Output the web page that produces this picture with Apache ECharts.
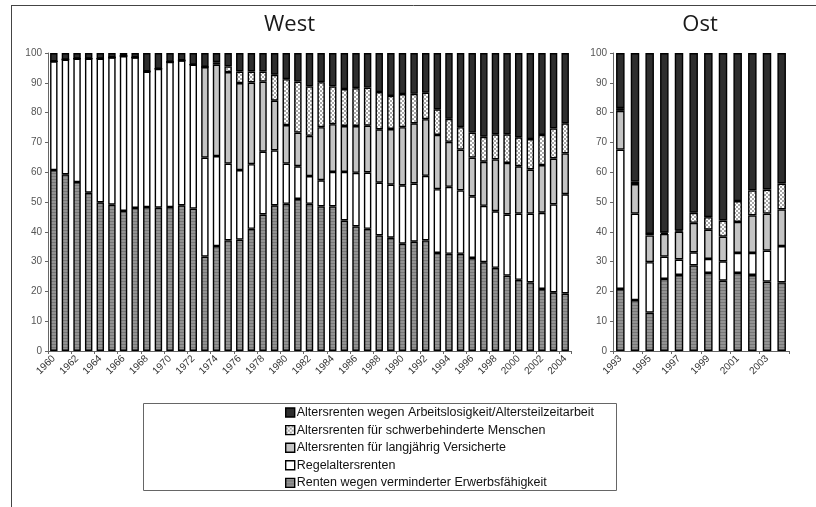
<!DOCTYPE html>
<html>
<head>
<meta charset="utf-8">
<script src="https://cdn.jsdelivr.net/npm/echarts@6/dist/echarts.min.js"></script>
<style>
  html, body { margin: 0; padding: 0; background: #fff; }
  #chart { width: 816px; height: 507px; }
</style>
</head>
<body>
<div id="chart"></div>
<script>
// Rentenzugänge nach Rentenart, Anteile in Prozent
const westYears = ['1960','1961','1962','1963','1964','1965','1966','1967','1968','1969',
  '1970','1971','1972','1973','1974','1975','1976','1977','1978','1979',
  '1980','1981','1982','1983','1984','1985','1986','1987','1988','1989',
  '1990','1991','1992','1993','1994','1995','1996','1997','1998','1999',
  '2000','2001','2002','2003','2004'];
const ostYears = ['1993','1994','1995','1996','1997','1998','1999','2000','2001','2002','2003','2004'];

const seriesNames = [
  'Renten wegen verminderter Erwerbsfähigkeit',
  'Regelaltersrenten',
  'Altersrenten für langjährig Versicherte',
  'Altersrenten für schwerbehinderte Menschen',
  'Altersrenten wegen Arbeitslosigkeit/Altersteilzeitarbeit'
];

// West
const westErwerb = [60.7,59.3,56.7,53.1,49.9,49.1,47.0,48.0,48.3,48.1,
  48.3,48.9,47.8,31.7,35.2,37.1,37.4,41.0,45.8,48.9,
  49.4,51.0,49.4,48.5,48.5,43.8,41.8,41.0,38.8,38.0,
  36.0,36.7,37.1,32.9,32.6,32.6,31.2,29.8,27.9,25.3,
  23.9,23.0,20.8,19.7,19.3];
const westRegel = [36.5,38.5,41.4,45.0,48.2,49.4,52.0,50.5,45.5,46.6,
  48.7,48.6,48.3,33.2,30.2,25.8,23.3,21.7,21.1,18.4,
  13.5,11.0,9.3,8.8,11.6,16.3,18.0,18.9,17.7,17.8,
  19.6,19.5,21.7,21.4,22.5,21.3,20.7,18.9,19.0,20.5,
  22.2,23.1,25.6,29.5,33.3];
const westLangj = [0,0,0,0,0,0,0,0,0,0,
  0,0,0,30.4,30.7,30.7,29.2,27.4,23.5,16.7,
  12.9,11.3,13.5,17.8,16.0,15.4,15.7,15.7,17.9,18.7,
  19.5,20.2,19.0,18.2,15.1,13.7,13.0,14.8,17.4,17.3,
  15.9,14.8,16.0,15.4,13.7];
const westSchwer = [0,0,0,0,0,0,0,0,0,0,
  0,0,0,0,0.8,1.9,3.9,3.7,3.4,8.7,
  15.4,17.1,16.6,15.1,12.7,12.4,12.7,12.8,12.5,11.1,
  11.1,9.9,8.9,8.6,7.7,7.5,8.4,8.4,8.4,9.6,
  9.7,10.2,10.1,10.1,10.1];
const westArbeitsl = [2.8,2.2,1.9,1.9,1.9,1.5,1.0,1.5,6.2,5.3,
  3.0,2.5,3.9,4.7,3.1,4.5,6.2,6.2,6.2,7.3,
  8.8,9.6,11.2,9.8,11.2,12.1,11.8,11.6,13.1,14.4,
  13.8,13.7,13.3,18.9,22.1,24.9,26.7,28.1,27.3,27.3,
  28.3,28.9,27.5,25.3,23.6];

// Ost
const ostErwerb = [20.8,17.1,12.9,24.2,25.5,28.7,26.2,23.6,26.2,25.5,23.3,23.0];
const ostRegel = [46.8,29.0,16.9,7.5,5.2,4.4,4.7,6.5,6.7,7.4,10.4,12.2];
const ostLangj = [13.0,9.9,9.0,7.6,9.4,9.9,9.8,8.3,10.4,12.6,12.4,12.3];
const ostSchwer = [0.9,0.8,0.5,0.4,0.3,3.4,4.2,5.4,7.0,8.4,8.1,8.7];
const ostArbeitsl = [18.5,43.2,60.7,60.3,59.6,53.6,55.1,56.2,49.7,46.1,45.8,43.8];

const yTicks = { min: 0, max: 100, interval: 10 };

// fill patterns
function makePattern(w, h, paint) {
  const c = document.createElement('canvas');
  c.width = w; c.height = h;
  paint(c.getContext('2d'));
  return { image: c, repeat: 'repeat' };
}
const hatchGrey = makePattern(2, 3, ctx => {
  ctx.fillStyle = '#939393'; ctx.fillRect(0, 0, 2, 3);
  ctx.fillStyle = '#777777'; ctx.fillRect(0, 2, 2, 1);
});
const checker = makePattern(4, 4, ctx => {
  ctx.fillStyle = '#a8a8a8'; ctx.fillRect(0, 0, 4, 4);
  ctx.fillStyle = '#ffffff'; ctx.fillRect(0, 0, 2, 2); ctx.fillRect(2, 2, 2, 2);
});

const fills = [hatchGrey, '#ffffff', '#c4c4c4', checker, '#2e2e2e'];
const westData = [westErwerb, westRegel, westLangj, westSchwer, westArbeitsl];
const ostData = [ostErwerb, ostRegel, ostLangj, ostSchwer, ostArbeitsl];

const series = [];
seriesNames.forEach((name, i) => {
  series.push({
    name, type: 'bar', stack: 'w', xAxisIndex: 0, yAxisIndex: 0,
    data: westData[i], barWidth: '64%',
    itemStyle: { color: fills[i], borderColor: '#000', borderWidth: 1.4 },
    emphasis: { disabled: true }
  });
  series.push({
    name, type: 'bar', stack: 'o', xAxisIndex: 1, yAxisIndex: 1,
    data: ostData[i], barWidth: '58%',
    itemStyle: { color: fills[i], borderColor: '#000', borderWidth: 1.4 },
    emphasis: { disabled: true }
  });
});

const axisFont = { fontFamily: 'Liberation Sans, Arial, sans-serif', fontSize: 10, color: '#333' };

function xAxis(gridIndex, data) {
  return {
    type: 'category', gridIndex, data,
    axisLine: { lineStyle: { color: '#666', width: 1 } },
    axisTick: { show: true, length: 3, lineStyle: { color: '#666' } },
    axisLabel: Object.assign({ rotate: 45, interval: 1, margin: 6 }, axisFont)
  };
}
function yAxis(gridIndex) {
  return {
    type: 'value', gridIndex, min: yTicks.min, max: yTicks.max, interval: yTicks.interval,
    axisLine: { show: true, lineStyle: { color: '#666', width: 1 } },
    axisTick: { show: true, length: 3, lineStyle: { color: '#666' } },
    splitLine: { show: false },
    axisLabel: Object.assign({ margin: 6 }, axisFont, { color: '#555', fontSize: 10 })
  };
}

const chart = echarts.init(document.getElementById('chart'), null, { renderer: 'canvas' });
chart.setOption({
  animation: false,
  backgroundColor: '#fff',
  grid: [
    { left: 48, right: 245, top: 53, bottom: 156 },
    { left: 613, right: 27, top: 53, bottom: 156 }
  ],
  xAxis: [xAxis(0, westYears), xAxis(1, ostYears)],
  yAxis: [yAxis(0), yAxis(1)],
  legend: {
    orient: 'vertical', left: 280, top: 401,
    data: seriesNames.slice().reverse(),
    itemWidth: 9, itemHeight: 9, itemGap: 4.6,
    icon: 'rect',
    textStyle: { fontFamily: 'Liberation Sans, Arial, sans-serif', fontSize: 12.5, color: '#111', padding: [0, 0, 0, -3] },
    itemStyle: { borderColor: '#000', borderWidth: 1.4 },
    selectedMode: false
  },
  series,
  graphic: [
    { type: 'line', shape: { x1: 11, y1: 5.5, x2: 816, y2: 5.5 }, style: { stroke: '#444', lineWidth: 1 } },
    { type: 'line', shape: { x1: 11.5, y1: 5, x2: 11.5, y2: 507 }, style: { stroke: '#444', lineWidth: 1 } },
    { type: 'rect', shape: { x: 143.5, y: 403.5, width: 473, height: 87 }, style: { fill: 'none', stroke: '#666', lineWidth: 1 } },
    { type: 'text', x: 289.5, y: 14, style: { text: 'West', font: '22px "Open Sans", sans-serif', fill: '#1a1a1a', textAlign: 'center' } },
    { type: 'text', x: 700, y: 14, style: { text: 'Ost', font: '22px "Open Sans", sans-serif', fill: '#1a1a1a', textAlign: 'center' } }
  ]
});
</script>
</body>
</html>
